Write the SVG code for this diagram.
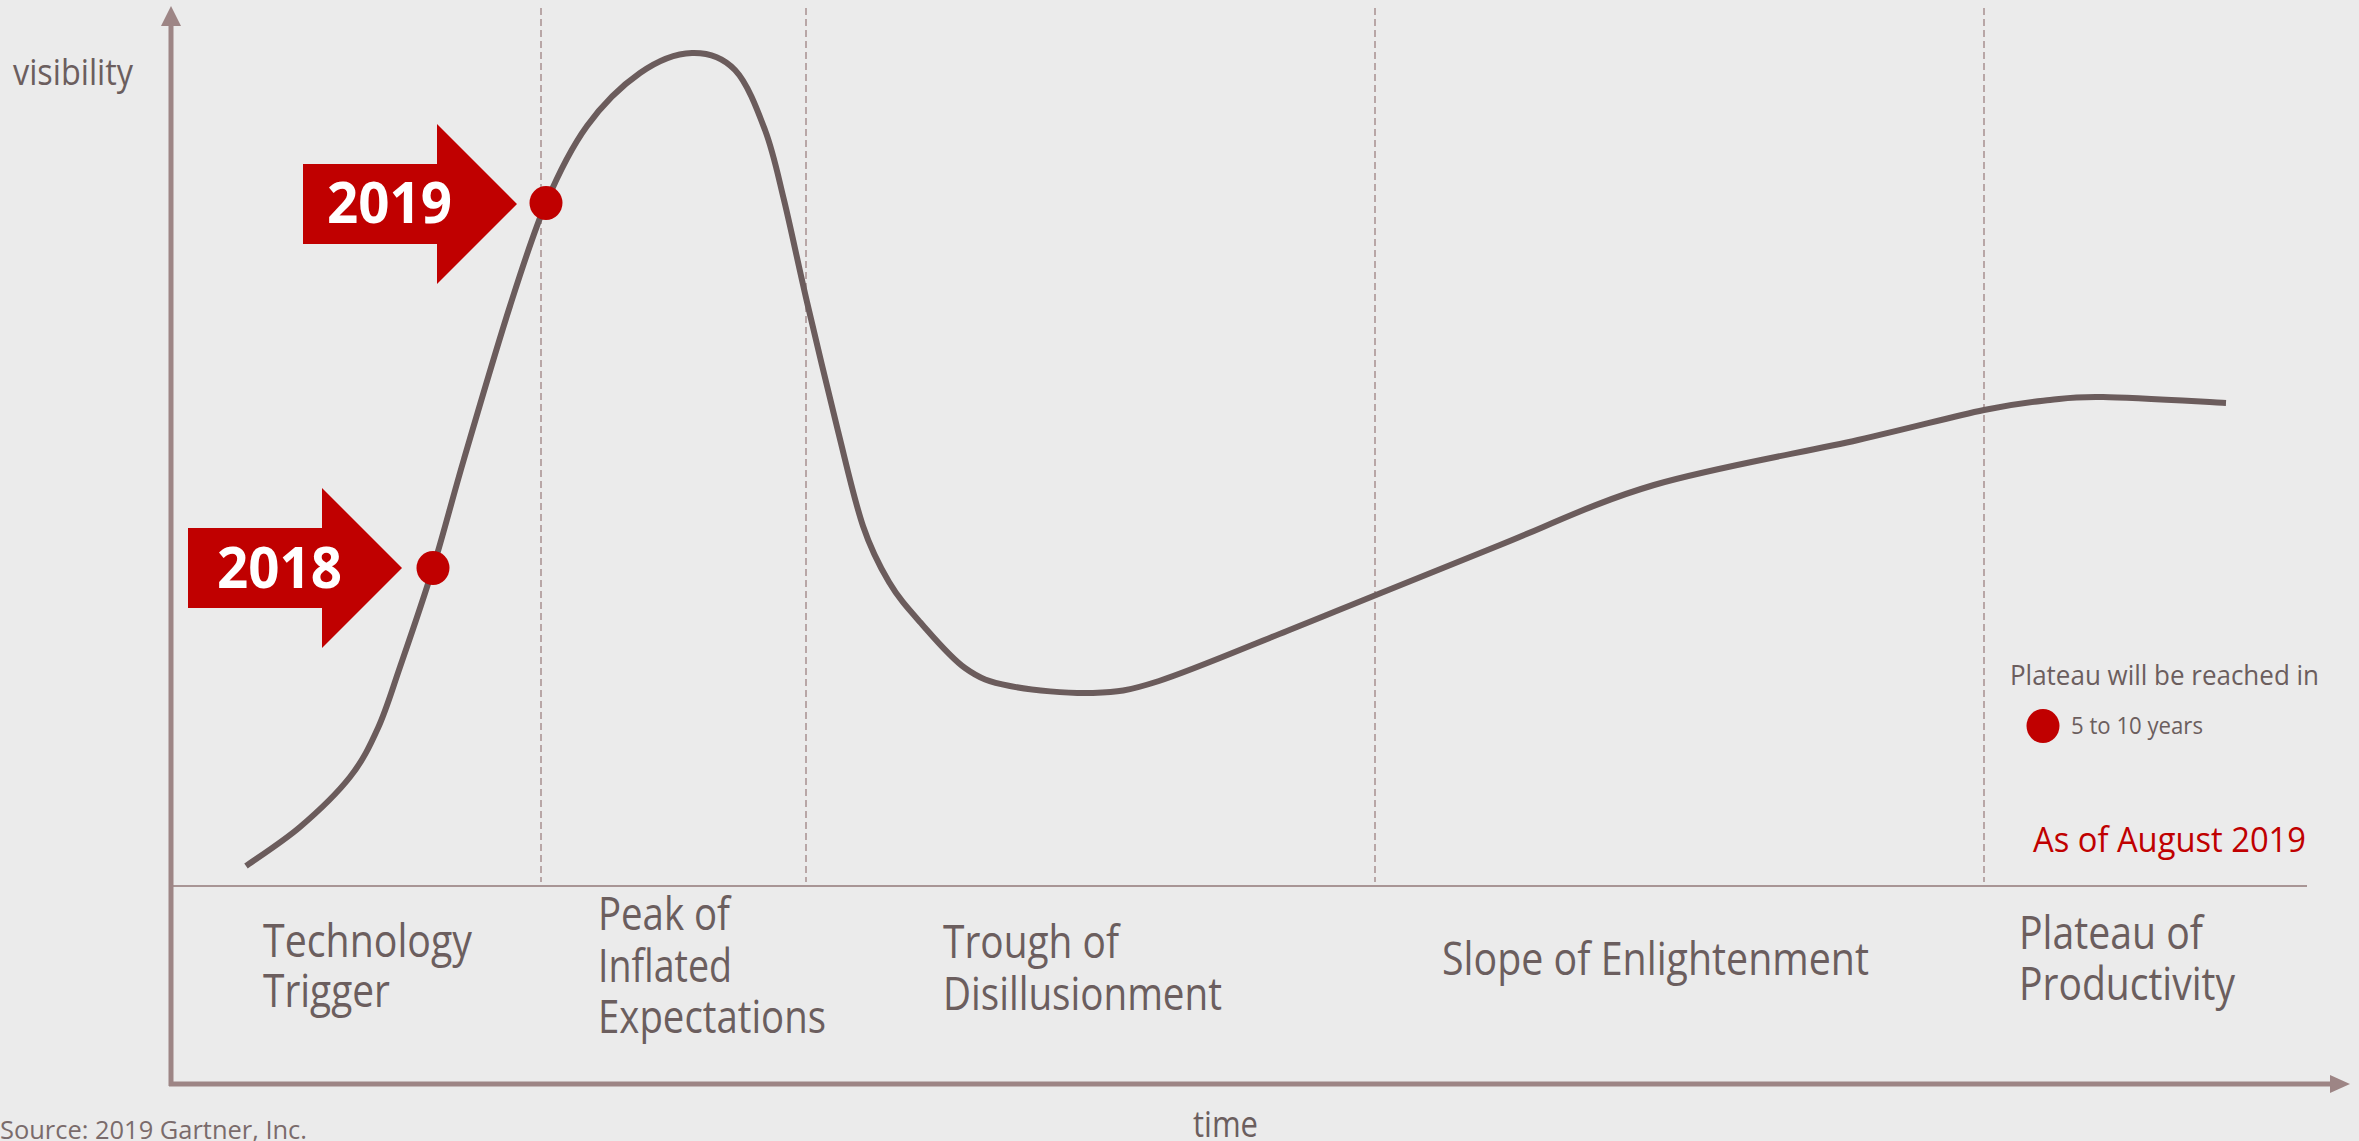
<svg xmlns="http://www.w3.org/2000/svg" width="2359" height="1141" viewBox="0 0 2359 1141">
<style>
.lbl{font-family:"Open Sans","Noto Sans",sans-serif;fill:#6b5e5e;}
.yr{font-family:"Open Sans","Noto Sans",sans-serif;font-weight:700;fill:#ffffff;font-size:58px;}
.dash{stroke:#a89090;stroke-width:1.5;stroke-dasharray:7 4;fill:none;}
.axis{stroke:#9d8585;stroke-width:5;fill:none;}
.red{fill:#c00000;}
</style>
<rect x="0" y="0" width="2359" height="1141" fill="#ebebeb"/>
<g id="grid">
<line class="dash" x1="541" y1="8" x2="541" y2="882"/>
<line class="dash" x1="806" y1="8" x2="806" y2="882"/>
<line class="dash" x1="1375" y1="8" x2="1375" y2="882"/>
<line class="dash" x1="1984" y1="8" x2="1984" y2="882"/>
<line x1="171" y1="886" x2="2307" y2="886" stroke="#a89595" stroke-width="2"/>
</g>
<g id="axes">
<line class="axis" x1="171" y1="1086" x2="171" y2="22"/>
<polygon points="171,6 161,26 181,26" fill="#9d8585"/>
<line class="axis" x1="169" y1="1084" x2="2333" y2="1084" stroke-width="6"/>
<polygon points="2350,1084 2330,1075 2330,1093" fill="#9d8585"/>
<text class="lbl" x="13" y="85" font-size="36" textLength="120" lengthAdjust="spacingAndGlyphs">visibility</text>
<text class="lbl" x="1193" y="1137" font-size="36" textLength="65" lengthAdjust="spacingAndGlyphs">time</text>
</g>
<g id="hype-curve">
<path d="M246,866 C255,859.5 282.7,841.8 300,827 C317.3,812.2 337,793.5 350,777 C363,760.5 369.7,746.3 378,728 C386.3,709.7 390.8,693.7 400,667 C409.2,640.3 422.3,602.7 433,568 C443.7,533.3 451.2,502.7 464,459 C476.8,415.3 496.3,348.7 510,306 C523.7,263.3 533.2,233 546,203 C558.8,173 571.3,147.7 587,126 C602.7,104.3 622.5,85.2 640,73 C657.5,60.8 676.2,53.5 692,53 C707.8,52.5 722.8,57.2 735,70 C747.2,82.8 756.8,108.3 765,130 C773.2,151.7 777,171.3 784,200 C791,228.7 798,263.5 807,302 C816,340.5 828.7,393.7 838,431 C847.3,468.3 854.5,500.8 863,526 C871.5,551.2 879.5,566 889,582 C898.5,598 907.3,607.7 920,622 C932.7,636.3 950,657.3 965,668 C980,678.7 988.7,681.8 1010,686 C1031.3,690.2 1068.2,693.8 1093,693 C1117.8,692.2 1126.7,691.3 1159,681 C1191.3,670.7 1250.8,645.3 1287,631 C1323.2,616.7 1340.5,609.3 1376,595 C1411.5,580.7 1453.7,563.3 1500,545 C1546.3,526.7 1594.3,502.5 1654,485 C1713.7,467.5 1803,452.5 1858,440 C1913,427.5 1952,416.7 1984,410 C2016,403.3 2030.2,402.2 2050,400 C2069.8,397.8 2073.7,396.5 2103,397 C2132.3,397.5 2205.5,402 2226,403" fill="none" stroke="#6b5c5c" stroke-width="6"/>
</g>
<g id="marker-2018">
<polygon class="red" points="188,528 322,528 322,488 402,568 322,648 322,608 188,608"/>
<text class="yr" x="217" y="588" textLength="125" lengthAdjust="spacingAndGlyphs">2018</text>
<ellipse class="red" cx="433" cy="568" rx="16.5" ry="17"/>
</g>
<g id="marker-2019">
<polygon class="red" points="303,164 437,164 437,124 517,204 437,284 437,244 303,244"/>
<text class="yr" x="327" y="223" textLength="125" lengthAdjust="spacingAndGlyphs">2019</text>
<ellipse class="red" cx="546" cy="203" rx="16.5" ry="17"/>
</g>
<g id="phase-labels">
<text class="lbl" font-size="45"><tspan x="263" y="957" textLength="209" lengthAdjust="spacingAndGlyphs">Technology</tspan><tspan x="263" y="1007" textLength="127" lengthAdjust="spacingAndGlyphs">Trigger</tspan></text>
<text class="lbl" font-size="45"><tspan x="598" y="930" textLength="132" lengthAdjust="spacingAndGlyphs">Peak of</tspan><tspan x="598" y="982" textLength="134" lengthAdjust="spacingAndGlyphs">Inflated</tspan><tspan x="598" y="1033" textLength="228" lengthAdjust="spacingAndGlyphs">Expectations</tspan></text>
<text class="lbl" font-size="45"><tspan x="943" y="958" textLength="176" lengthAdjust="spacingAndGlyphs">Trough of</tspan><tspan x="943" y="1010" textLength="279" lengthAdjust="spacingAndGlyphs">Disillusionment</tspan></text>
<text class="lbl" font-size="45" x="1442" y="975" textLength="427" lengthAdjust="spacingAndGlyphs">Slope of Enlightenment</text>
<text class="lbl" font-size="45"><tspan x="2019" y="949" textLength="184" lengthAdjust="spacingAndGlyphs">Plateau of</tspan><tspan x="2019" y="1000" textLength="216" lengthAdjust="spacingAndGlyphs">Productivity</tspan></text>
</g>
<g id="legend">
<text class="lbl" x="2010" y="685" font-size="27" textLength="309" lengthAdjust="spacingAndGlyphs">Plateau will be reached in</text>
<ellipse class="red" cx="2043" cy="726" rx="16.5" ry="17"/>
<text class="lbl" x="2071" y="734" font-size="23" textLength="132" lengthAdjust="spacingAndGlyphs">5 to 10 years</text>
<text x="2033" y="852" font-size="34" font-family="Open Sans, Noto Sans, sans-serif" fill="#c00000" textLength="273" lengthAdjust="spacingAndGlyphs">As of August 2019</text>
</g>
<g id="source">
<text x="0" y="1139" font-size="26" font-family="Open Sans, Noto Sans, sans-serif" fill="#7a6b6b" textLength="307" lengthAdjust="spacingAndGlyphs">Source: 2019 Gartner, Inc.</text>
</g>
</svg>
